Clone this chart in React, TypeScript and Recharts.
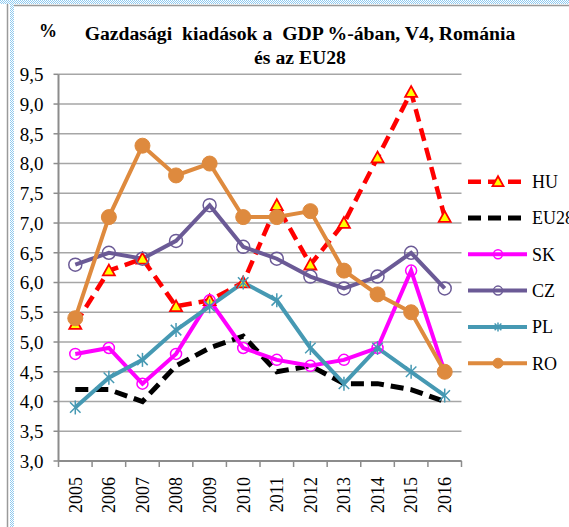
import React from 'react';
import { LineChart, Line, XAxis, YAxis, CartesianGrid, Legend } from 'recharts';

const years = [2005, 2006, 2007, 2008, 2009, 2010, 2011, 2012, 2013, 2014, 2015, 2016];
const hu = [5.3, 6.2, 6.4, 5.6, 5.7, 6.0, 7.3, 6.3, 7.0, 8.1, 9.2, 7.1];
const eu28 = [4.2, 4.2, 4.0, 4.6, 4.9, 5.1, 4.5, 4.6, 4.3, 4.3, 4.2, 4.0];
const sk = [4.8, 4.9, 4.3, 4.8, 5.7, 4.9, 4.7, 4.6, 4.7, 4.9, 6.2, 4.5];
const cz = [6.3, 6.5, 6.4, 6.7, 7.3, 6.6, 6.4, 6.1, 5.9, 6.1, 6.5, 5.9];
const pl = [3.9, 4.4, 4.7, 5.2, 5.6, 6.0, 5.7, 4.9, 4.3, 4.9, 4.5, 4.1];
const ro = [5.4, 7.1, 8.3, 7.8, 8.0, 7.1, 7.1, 7.2, 6.2, 5.8, 5.5, 4.5];

const seriesNames = ['HU', 'EU28', 'SK', 'CZ', 'PL', 'RO'];
const seriesValues = [hu, eu28, sk, cz, pl, ro];
const yTicks = [3, 3.5, 4, 4.5, 5, 5.5, 6, 6.5, 7, 7.5, 8, 8.5, 9, 9.5];
const titleLine1 = 'Gazdasági  kiadások a  GDP %-ában, V4, Románia';
const titleLine2 = 'és az EU28';
const unitLabel = '%';

const data = years.map((y, i) => {
  const row: Record<string, number> = { year: y };
  seriesNames.forEach((n, k) => {
    row[n] = seriesValues[k][i];
  });
  return row;
});

const xTicks: number[] = [];
years.forEach((y) => {
  xTicks.push(y - 0.5);
  xTicks.push(y);
});
xTicks.push(years[years.length - 1] + 0.5);

const FONT = '"Liberation Serif", "Times New Roman", serif';
const GRID = '#a6a6a6';
const AXIS = '#8c8c8c';

type MarkerKind = 'triangle' | 'none' | 'open' | 'star' | 'filled';
interface Style {
  color: string;
  width: number;
  dash?: string;
  marker: MarkerKind;
  r: number;
}
const styles: Record<string, Style> = {
  HU: { color: '#ff0000', width: 4.5, dash: '13 7', marker: 'triangle', r: 6 },
  EU28: { color: '#000000', width: 5, dash: '13 7', marker: 'none', r: 0 },
  SK: { color: '#ff00ff', width: 4, marker: 'open', r: 5.5 },
  CZ: { color: '#6b5a96', width: 4, marker: 'open', r: 6.5 },
  PL: { color: '#4699b3', width: 4, marker: 'star', r: 7 },
  RO: { color: '#de8a3e', width: 4, marker: 'filled', r: 7.5 },
};

function Marker({ kind, cx, cy, color, r }: { kind: MarkerKind; cx: number; cy: number; color: string; r: number }) {
  if (kind === 'triangle') {
    return (
      <polygon
        points={`${cx},${cy - r} ${cx - r},${cy + r * 0.8} ${cx + r},${cy + r * 0.8}`}
        fill="#ffff00"
        stroke={color}
        strokeWidth={1.8}
      />
    );
  }
  if (kind === 'open') {
    return <circle cx={cx} cy={cy} r={r} fill="none" stroke={color} strokeWidth={1.5} />;
  }
  if (kind === 'filled') {
    return <circle cx={cx} cy={cy} r={r} fill={color} stroke={color} strokeWidth={1} />;
  }
  if (kind === 'star') {
    const d = r * 0.75;
    return (
      <g stroke={color} strokeWidth={1.5}>
        <line x1={cx - d} y1={cy - d} x2={cx + d} y2={cy + d} />
        <line x1={cx - d} y1={cy + d} x2={cx + d} y2={cy - d} />
        <line x1={cx} y1={cy - r} x2={cx} y2={cy + r} />
      </g>
    );
  }
  return null;
}

const makeDot = (name: string) => (props: any) => {
  const s = styles[name];
  const { cx, cy, index } = props;
  if (s.marker === 'none' || cx == null || cy == null) return <g key={`${name}-${index}`} />;
  return (
    <g key={`${name}-${index}`}>
      <Marker kind={s.marker} cx={cx} cy={cy} color={s.color} r={s.r} />
    </g>
  );
};

const XTick = (props: any) => {
  const { x, y, payload } = props;
  const v = payload.value as number;
  if (!Number.isInteger(v)) {
    return <line x1={x} x2={x} y1={y - 16} y2={y - 10} stroke={AXIS} strokeWidth={1.5} />;
  }
  return (
    <text
      x={x}
      y={y}
      transform={`rotate(-90, ${x}, ${y})`}
      textAnchor="end"
      dy="0.35em"
      fontSize={18}
      fontFamily={FONT}
      fill="#000"
    >
      {v}
    </text>
  );
};

const renderLegend = () => {
  const rowH = 36.3;
  return (
    <svg width={107} height={225} style={{ overflow: 'visible', display: 'block' }}>
      {seriesNames.map((n, i) => {
        const s = styles[n];
        const cy = 21.7 + i * rowH;
        return (
          <g key={n}>
            <line
              x1={6}
              x2={65}
              y1={cy}
              y2={cy}
              stroke={s.color}
              strokeWidth={s.width}
              strokeDasharray={s.dash}
            />
            <Marker kind={s.marker} cx={36} cy={cy} color={s.color} r={s.marker === 'filled' ? 5 : s.marker === 'triangle' ? 5.5 : 4.5} />
            <text x={70} y={cy} dy="0.35em" fontSize={18} fontFamily={FONT} fill="#000">
              {n}
            </text>
          </g>
        );
      })}
    </svg>
  );
};

export default function App() {
  return (
    <div
      style={{
        position: 'absolute',
        left: 0,
        top: 0,
        width: 569,
        height: 527,
        background: '#fff',
        overflow: 'hidden',
        fontFamily: FONT,
      }}
    >
      <LineChart
        width={569}
        height={527}
        data={data}
        margin={{ top: 74.3, right: 107.5, bottom: 0, left: 0 }}
      >
        <CartesianGrid vertical={false} stroke={GRID} strokeWidth={1.5} />
        <XAxis
          dataKey="year"
          type="number"
          domain={[2004.5, 2016.5]}
          ticks={xTicks}
          interval={0}
          height={66}
          tick={<XTick />}
          tickLine={false}
          tickSize={6}
          tickMargin={10}
          axisLine={{ stroke: AXIS, strokeWidth: 2 }}
          allowDecimals
        />
        <YAxis
          type="number"
          domain={[3, 9.5]}
          ticks={yTicks}
          interval={0}
          width={58.5}
          tickSize={5}
          tickMargin={10}
          tickFormatter={(v: number) => v.toFixed(1).replace('.', ',')}
          tick={{ fontSize: 19, fontFamily: FONT, fill: '#000' }}
          axisLine={{ stroke: AXIS, strokeWidth: 2 }}
          tickLine={{ stroke: AXIS, strokeWidth: 1.5 }}
        />
        <Legend
          layout="vertical"
          align="center"
          verticalAlign="middle"
          wrapperStyle={{ left: 462, top: 160, width: 107, height: 225 }}
          content={renderLegend}
        />
        {seriesNames.map((n) => {
          const s = styles[n];
          return (
            <Line
              key={n}
              type="linear"
              dataKey={n}
              name={n}
              stroke={s.color}
              strokeWidth={s.width}
              strokeDasharray={s.dash}
              dot={makeDot(n)}
              activeDot={false}
              isAnimationActive={false}
            />
          );
        })}
      </LineChart>
      <svg
        width={569}
        height={527}
        style={{ position: 'absolute', left: 0, top: 0, pointerEvents: 'none' }}
      >
        <defs>
          <pattern id="chk" width="2" height="2" patternUnits="userSpaceOnUse">
            <rect width="2" height="2" fill="#ffffff" />
            <rect width="1" height="1" fill="#8fcaf0" />
            <rect x="1" y="1" width="1" height="1" fill="#8fcaf0" />
          </pattern>
        </defs>
        <rect x={0} y={0} width={569} height={4} fill="url(#chk)" />
        <rect x={10} y={0} width={4} height={527} fill="url(#chk)" />
        <line x1={7.5} x2={7.5} y1={4} y2={527} stroke="#9a9a9a" strokeWidth={1.5} />
        <line x1={14} x2={569} y1={5.5} y2={5.5} stroke="#9a9a9a" strokeWidth={1.5} />
        <text x={39} y={37} fontSize={18} fontWeight="bold" fontFamily={FONT} fill="#000">
          {unitLabel}
        </text>
        <text
          x={300}
          y={40}
          textAnchor="middle"
          fontSize={19.7}
          fontWeight="bold"
          fontFamily={FONT}
          fill="#000"
          style={{ whiteSpace: 'pre' }}
        >
          {titleLine1}
        </text>
        <text x={300} y={63.5} textAnchor="middle" fontSize={19.7} fontWeight="bold" fontFamily={FONT} fill="#000">
          {titleLine2}
        </text>
      </svg>
    </div>
  );
}
